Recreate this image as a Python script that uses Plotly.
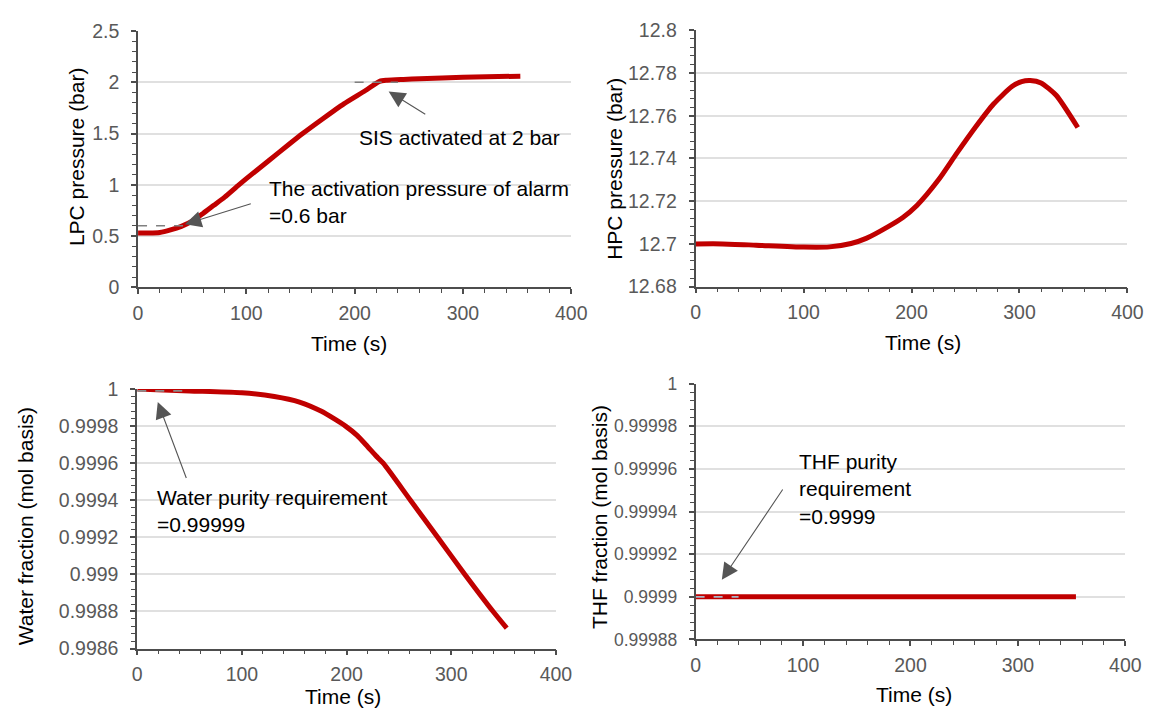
import plotly.graph_objects as go

# ---------------- data ----------------
t_lpc = [0, 10, 20, 30, 40, 50, 60, 70, 80, 92, 100, 120, 140, 152, 170, 190, 210, 223, 230, 245, 260, 300, 353]
lpc = [0.53, 0.53, 0.535, 0.56, 0.595, 0.645, 0.72, 0.80, 0.88, 0.99, 1.06, 1.23, 1.40, 1.50, 1.64, 1.79, 1.92, 2.01, 2.02, 2.028, 2.035, 2.05, 2.06]
lpc_alarm_t = [0, 45]
lpc_alarm = [0.6, 0.6]
lpc_sis_t = [200, 240]
lpc_sis = [2.0, 2.0]

t_hpc = [0, 25, 56, 100, 124, 144, 158, 178, 192, 205, 225, 242, 259, 276, 293, 302, 310, 320, 334, 354]
hpc = [12.700, 12.700, 12.6994, 12.6985, 12.6986, 12.7002, 12.7026, 12.708, 12.7124, 12.718,
       12.730, 12.7425, 12.7545, 12.7655, 12.7737, 12.7760, 12.7765, 12.7754, 12.7696, 12.7545]

t_water = [0, 50, 100, 131, 155, 176, 188, 199, 210, 220, 228, 235, 261, 287, 313, 340, 353]
water = [1.0, 0.99999, 0.99998, 0.99996, 0.99993, 0.99988, 0.99984, 0.9998, 0.99975, 0.99969,
         0.99964, 0.9996, 0.9994, 0.9992, 0.999, 0.9988, 0.99871]
water_req_t = [0, 44]
water_req = [0.99999, 0.99999]

t_thf = [0, 100, 200, 300, 354]
thf = [0.9999, 0.9999, 0.9999, 0.9999, 0.9999]
thf_req_t = [0, 40]
thf_req = [0.9999, 0.9999]

x_ticks = [0, 100, 200, 300, 400]
lpc_ticks = [0, 0.5, 1, 1.5, 2, 2.5]
lpc_ticktext = ["0", "0.5", "1", "1.5", "2", "2.5"]
hpc_ticks = [12.68, 12.70, 12.72, 12.74, 12.76, 12.78, 12.80]
hpc_ticktext = ["12.68", "12.7", "12.72", "12.74", "12.76", "12.78", "12.8"]
water_ticks = [0.9986, 0.9988, 0.9990, 0.9992, 0.9994, 0.9996, 0.9998, 1.0]
water_ticktext = ["0.9986", "0.9988", "0.999", "0.9992", "0.9994", "0.9996", "0.9998", "1"]
thf_ticks = [0.99988, 0.99990, 0.99992, 0.99994, 0.99996, 0.99998, 1.0]
thf_ticktext = ["0.99988", "0.9999", "0.99992", "0.99994", "0.99996", "0.99998", "1"]

# ---------------- style ----------------
RED = "#C00000"
FONT = "Arial, 'Liberation Sans', sans-serif"
TICKC = "#595959"
AXC = "#4d4d4d"
GRIDC = "#e0e0e0"
TICKFS = 19.5
TITLEFS = 21

fig = go.Figure()

def line(x, y, xa, ya, color=RED, width=5, dash=None, spline=True):
    fig.add_trace(go.Scatter(x=x, y=y, mode="lines", xaxis=xa, yaxis=ya,
                             line=dict(color=color, width=width, dash=dash,
                                       shape="spline" if spline else "linear",
                                       smoothing=0.6),
                             showlegend=False, hoverinfo="skip"))

line(t_lpc, lpc, "x", "y")
line(lpc_alarm_t, lpc_alarm, "x", "y", "#808080", 1.6, "dash", False)
line(lpc_sis_t, lpc_sis, "x", "y", "#808080", 1.6, "dash", False)
line(t_hpc, hpc, "x2", "y2")
line(t_water, water, "x3", "y3")
line(water_req_t, water_req, "x3", "y3", "#8c8c8c", 1.6, "dash", False)
line(t_thf, thf, "x4", "y4", spline=False)
line(thf_req_t, thf_req, "x4", "y4", "#a9b6c6", 1.6, "dash", False)

def xax(domain, anchor):
    return dict(domain=domain, anchor=anchor, range=[0, 400], tickvals=x_ticks,
                showgrid=False, zeroline=False, showline=True, linecolor=AXC, linewidth=1.8,
                ticks="outside", ticklen=5, tickwidth=1.5, tickcolor=AXC,
                minor=dict(dtick=20, tick0=0, ticks="outside", ticklen=4, tickwidth=1.2,
                           tickcolor=AXC, showgrid=False),
                ticklabelstandoff=2,
                tickfont=dict(family=FONT, size=TICKFS, color=TICKC), fixedrange=True)

def yax(domain, anchor, rng, vals, text, mdt, fs=TICKFS):
    return dict(domain=domain, anchor=anchor, range=rng, tickvals=vals, ticktext=text,
                showgrid=True, gridcolor=GRIDC, gridwidth=2, zeroline=False,
                showline=True, linecolor=AXC, linewidth=1.8,
                ticks="outside", ticklen=5, tickwidth=1.5, tickcolor=AXC,
                minor=dict(dtick=mdt, tick0=rng[0], ticks="outside", ticklen=4, tickwidth=1.2,
                           tickcolor=AXC, showgrid=False),
                ticklabelstandoff=8,
                tickfont=dict(family=FONT, size=fs, color=TICKC), fixedrange=True)

fig.update_layout(
    width=1164, height=719, margin=dict(l=0, r=0, t=0, b=0),
    paper_bgcolor="white", plot_bgcolor="white", showlegend=False,
    font=dict(family=FONT, color="#000000"),
    xaxis=xax([0.1164, 0.4954], "y"),
    yaxis=yax([0.6036, 0.9712], "x", [0, 2.5], lpc_ticks, lpc_ticktext, 0.1),
    xaxis2=xax([0.6042, 0.9820], "y2"),
    yaxis2=yax([0.6046, 0.9722], "x2", [12.68, 12.8], hpc_ticks, hpc_ticktext, 0.004),
    xaxis3=xax([0.1157, 0.4820], "y3"),
    yaxis3=yax([0.0853, 0.4576], "x3", [0.9986, 1.0], water_ticks, water_ticktext, 0.00004),
    xaxis4=xax([0.6042, 0.9802], "y4"),
    yaxis4=yax([0.0983, 0.4655], "x4", [0.99988, 1.0], thf_ticks, thf_ticktext, 0.000004, 17.5),
)

ann = []
def title(text, px, py, angle=0):
    ann.append(dict(text=text, x=px / 1164, y=1 - py / 719, xref="paper", yref="paper",
                    xanchor="center", yanchor="middle", textangle=angle, showarrow=False,
                    font=dict(family=FONT, size=TITLEFS, color="#000000")))

title("Time (s)", 350, 343)
title("Time (s)", 935, 342)
title("Time (s)", 344, 707)
title("Time (s)", 926, 705)
title("LPC pressure (bar)", 73, 150, -90)
title("HPC pressure (bar)", 620, 163, -90)
title("Water fraction (mol basis)", 21, 532, -90)
title("THF fraction (mol basis)", 605, 522, -90)

def arrow(x, y, ax, ay, xr, yr):
    ann.append(dict(text="", x=x, y=y, ax=ax, ay=ay, xref=xr, yref=yr, axref=xr, ayref=yr,
                    showarrow=True, arrowhead=2, arrowsize=3, arrowwidth=1.1,
                    arrowcolor="#555555", standoff=0, startstandoff=0))

arrow(43.3, 0.615, 105.5, 0.82, "x", "y")
arrow(231.4, 1.91, 266.6, 1.68, "x", "y")
arrow(19.6, 0.99993, 47.4, 0.999512, "x3", "y3")
arrow(24.4, 0.999908, 82, 0.999951, "x4", "y4")

def label(text, x, y, xr, yr):
    ann.append(dict(text=text, x=x, y=y, xref=xr, yref=yr, xanchor="left", yanchor="middle",
                    align="left", showarrow=False,
                    font=dict(family=FONT, size=TITLEFS, color="#000000")))

label("The activation pressure of alarm<br>=0.6 bar", 119, 0.837, "x", "y")
label("SIS activated at 2 bar", 202, 1.46, "x", "y")
label("Water purity requirement<br>=0.99999", 16.8, 0.999342, "x3", "y3")
label("THF purity<br>requirement<br>=0.9999", 94.5, 0.9999507, "x4", "y4")

fig.update_layout(annotations=ann)

POST = (
    "var d=document.documentElement,b=document.body;"
    "d.style.margin='0';d.style.padding='0';d.style.overflow='hidden';"
    "b.style.margin='0';b.style.padding='0';b.style.overflow='hidden';"
)
fig.write_html("out.html", config={"displayModeBar": False}, post_script=POST)
